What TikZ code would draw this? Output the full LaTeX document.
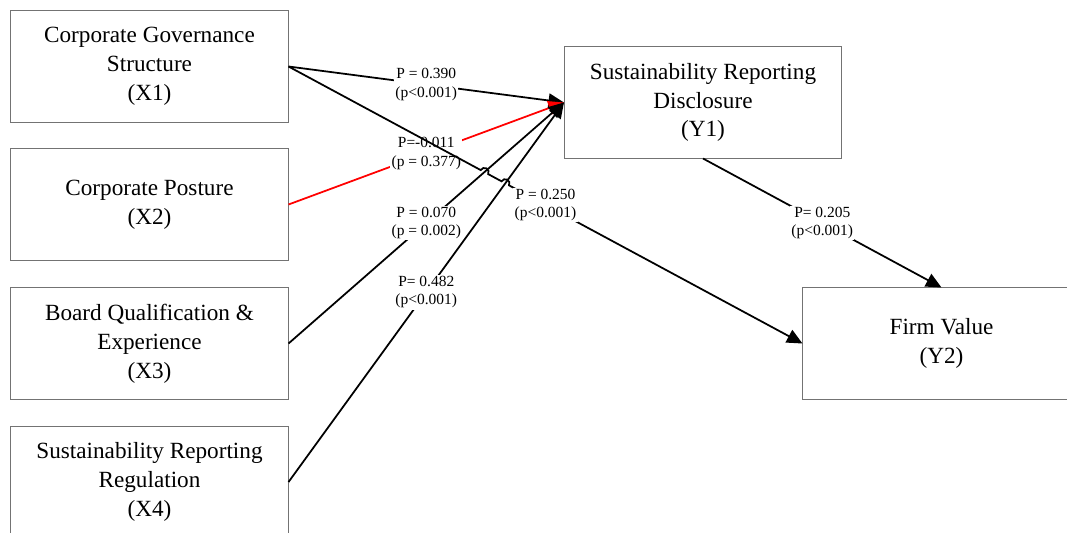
\documentclass[tikz,border=0pt]{standalone}
\usepackage{fontspec}
\setmainfont{Liberation Serif}
\usetikzlibrary{arrows.meta,calc,intersections}

\begin{document}
\begin{tikzpicture}[
    x=0.025cm, y=-0.025cm,
    frame/.style={draw=black!55, line width=0.7pt},
    construct/.style={frame, minimum width=6.925cm, minimum height=2.775cm,
        align=center, font=\fontsize{16.5}{20.5}\selectfont},
    effect/.style={-{Triangle[length=11pt, width=10pt]}, line width=1.25pt, color=black},
    weak/.style={effect, color=red},
    coef/.style={fill=white, text=black, inner sep=1pt, align=center, font=\fontsize{11}{13}\selectfont}
]
    \useasboundingbox (0,0) rectangle (1067,533);

    \node[construct] (x1) at (149.5,66.5) {Corporate Governance\\Structure\\(X1)};
    \node[construct] (x2) at (149.5,204.5) {Corporate Posture\\(X2)};
    \node[construct] (x3) at (149.5,343.5) {Board Qualification \&\\Experience\\(X3)};
    \node[construct] (x4) at (149.5,482) {Sustainability Reporting\\Regulation\\(X4)};
    \node[construct] (y1) at (703,102.5) {Sustainability Reporting\\Disclosure\\(Y1)};
    \node[construct, draw=none] (y2) at (941.5,343.5) {Firm Value\\(Y2)};
    % Y2 runs off the right edge: open frame
    \draw[frame] ($(y2.north east)+(60,0)$) -- (y2.north west) -- (y2.south west) -- ($(y2.south east)+(60,0)$);

    % crossings of the X1 -> Y2 path
    \path[name path=pY] (x1.east) -- (y2.west);
    \path[name path=p3] (x3.east) -- (y1.west);
    \path[name path=p4] (x4.east) -- (y1.west);
    \path[name intersections={of=pY and p3, by=h3}];
    \path[name intersections={of=pY and p4, by=h4}];

    \draw[effect] (x1.east) to node[coef] {P = 0.390\\(p<0.001)} (y1.west);
    \draw[weak] (x2.east) to node[coef] {P=-0.011\\(p = 0.377)} (y1.west);
    \draw[effect] let \p1=($(y2.west)-(x1.east)$), \n1={atan2(\y1,\x1)} in
        (x1.east) -- ($(h3)!3pt!(x1.east)$) arc[start angle=\n1+180, end angle=\n1, radius=3pt]
        -- ($(h4)!3pt!(x1.east)$) arc[start angle=\n1+180, end angle=\n1, radius=3pt] -- (y2.west);
    \node[coef] (c250) at ($(x1.east)!0.5!(y2.west)$) {P = 0.250\\(p<0.001)};
    \draw[effect] (x3.east) to node[coef] {P = 0.070\\(p = 0.002)} (y1.west);
    \draw[effect] (x4.east) to node[coef] {P= 0.482\\(p<0.001)} (y1.west);
    \draw[effect] (y1.south) to node[coef] {P= 0.205\\(p<0.001)} (y2.north);
\end{tikzpicture}
\end{document}
